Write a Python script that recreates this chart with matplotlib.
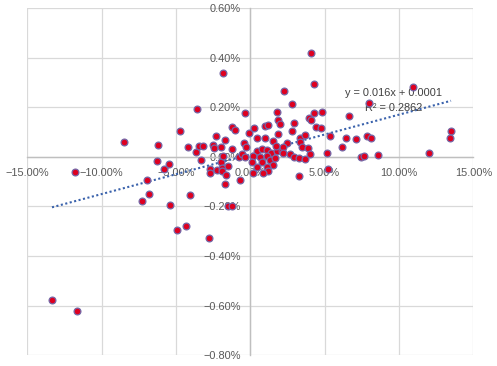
import matplotlib
matplotlib.use("Agg")
import matplotlib.pyplot as plt
import numpy as np
from matplotlib.ticker import PercentFormatter, FixedLocator

plt.rcParams['font.family'] = ['Liberation Sans', 'DejaVu Sans']

# data (percent values)
x_pct = [-13.34, -11.66, -11.81, -8.50, -7.29, -6.80, -6.98, -6.26, -6.22, -5.82,
         -5.48, -5.42, -4.95, -4.34, -4.76, -4.21, -4.03, -3.66, -3.56, -3.46,
         -3.19, -3.32, -2.80, -2.70, -2.68, -2.48, -2.42, -2.30, -2.23, -1.97,
         -1.97, -1.93, -1.93, -1.86, -1.86, -1.71, -1.72, -1.63, -1.50, -1.48,
         -1.21, -1.23, -1.05, -1.23, -0.79, -0.67, -0.54, -0.45, -0.38, -0.32,
         -0.36, -0.07, 0.20, 0.27, 0.99, 1.21, 1.88, 1.99, 1.88, 0.42,
         0.99, 1.54, 2.44, 0.44, 0.81, 1.11, 1.38, 1.78, 2.11, 2.23,
         2.21, 0.20, 0.65, 1.09, 0.09, 0.76, 1.32, 1.54, 0.42, 1.09,
         1.21, 0.87, 1.68, 1.74, 1.77, 2.30, 2.80, 2.95, 2.82, 2.68,
         2.91, 3.29, 3.69, 3.31, 3.31, 3.47, 3.71, 3.91, 3.93, 4.09,
         4.05, 4.28, 4.28, 4.03, 4.41, 4.77, 4.85, 3.30, 5.13, 5.26,
         5.39, 6.19, 6.44, 6.66, 7.11, 7.47, 7.66, 7.87, 8.01, 8.15,
         8.61, 10.95, 12.03, 13.50, 13.44]
y_pct = [-0.579, -0.623, -0.062, 0.058, -0.176, -0.148, -0.093, -0.015, 0.046, -0.047,
         -0.027, -0.196, -0.293, -0.277, 0.106, 0.038, -0.152, 0.019, 0.192, 0.043,
         0.043, -0.013, -0.329, -0.047, -0.065, 0.047, 0.034, 0.085, -0.054, 0.039,
         -0.019, -0.043, -0.059, 0.337, 0.002, 0.069, -0.110, -0.073, -0.038, -0.197,
         -0.197, 0.121, 0.110, 0.030, -0.002, -0.094, 0.010, 0.054, 0.175, 0.040,
         0.001, 0.096, -0.066, 0.116, 0.123, 0.127, 0.149, 0.132, 0.092, 0.075,
         0.075, 0.062, 0.055, 0.025, 0.031, 0.029, 0.017, 0.025, 0.025, 0.040,
         0.015, 0.002, -0.002, 0.004, -0.019, -0.019, -0.012, -0.032, -0.039, -0.039,
         -0.059, -0.066, -0.004, 0.044, 0.180, 0.264, 0.213, 0.137, 0.104, 0.010,
         -0.002, -0.006, -0.010, 0.077, 0.059, 0.040, 0.089, 0.036, 0.158, 0.148,
         0.417, 0.292, 0.176, 0.010, 0.122, 0.115, 0.182, -0.078, 0.014, -0.047,
         0.083, 0.039, 0.075, 0.163, 0.071, -0.002, 0.002, 0.083, 0.219, 0.074,
         0.006, 0.280, 0.014, 0.104, 0.075]
slope = 0.016
intercept = 0.0001
r_squared = 0.2862
x_ticks = [-0.15, -0.10, -0.05, 0.0, 0.05, 0.10, 0.15]
y_ticks = [-0.008, -0.006, -0.004, -0.002, 0.0, 0.002, 0.004, 0.006]

x = np.array(x_pct) / 100.0
y = np.array(y_pct) / 100.0

fig = plt.figure(figsize=(4.97, 3.66), dpi=100)
ax = fig.add_axes([27.3 / 497, 1 - 355.3 / 366, (473.3 - 27.3) / 497, (355.3 - 8) / 366])

ax.set_xlim(x_ticks[0], x_ticks[-1])
ax.set_ylim(y_ticks[0], y_ticks[-1])
ax.xaxis.set_major_locator(FixedLocator(x_ticks))
ax.yaxis.set_major_locator(FixedLocator(y_ticks))
ax.xaxis.set_major_formatter(PercentFormatter(xmax=1, decimals=2))
ax.yaxis.set_major_formatter(PercentFormatter(xmax=1, decimals=2))

ax.grid(True, color='#D9D9D9', linewidth=0.9)
ax.set_axisbelow(True)
for gl in ax.get_xgridlines() + ax.get_ygridlines():
    gl.set_clip_on(False)

for s in ['top', 'right']:
    ax.spines[s].set_visible(False)
ax.spines['left'].set_position('zero')
ax.spines['bottom'].set_position('zero')
for s in ['left', 'bottom']:
    ax.spines[s].set_color('#BFBFBF')
    ax.spines[s].set_linewidth(1.0)

ax.tick_params(axis='both', length=0, labelsize=7.9, labelcolor='#595959')
ax.tick_params(axis='y', pad=7)
ax.tick_params(axis='x', pad=8)

# trendline
xl = np.array([x.min(), x.max()])
ax.plot(xl, slope * xl + intercept, linestyle=(0, (1, 1.2)), color='#3A62AC',
        linewidth=1.5, zorder=3)

ax.text(0.0638, 0.00257, 'y = 0.016x + 0.0001', fontsize=7.9, color='#404040',
        ha='left', va='center', zorder=3)
ax.text(0.0770, 0.00198, 'R\u00b2 = %.4f' % r_squared, fontsize=7.9, color='#404040',
        ha='left', va='center', zorder=3)

ax.scatter(x, y, s=24, facecolor='#DE0020', edgecolor='#7468A8', linewidth=0.9,
           zorder=5, clip_on=False)

fig.savefig('out.png', dpi=100)
